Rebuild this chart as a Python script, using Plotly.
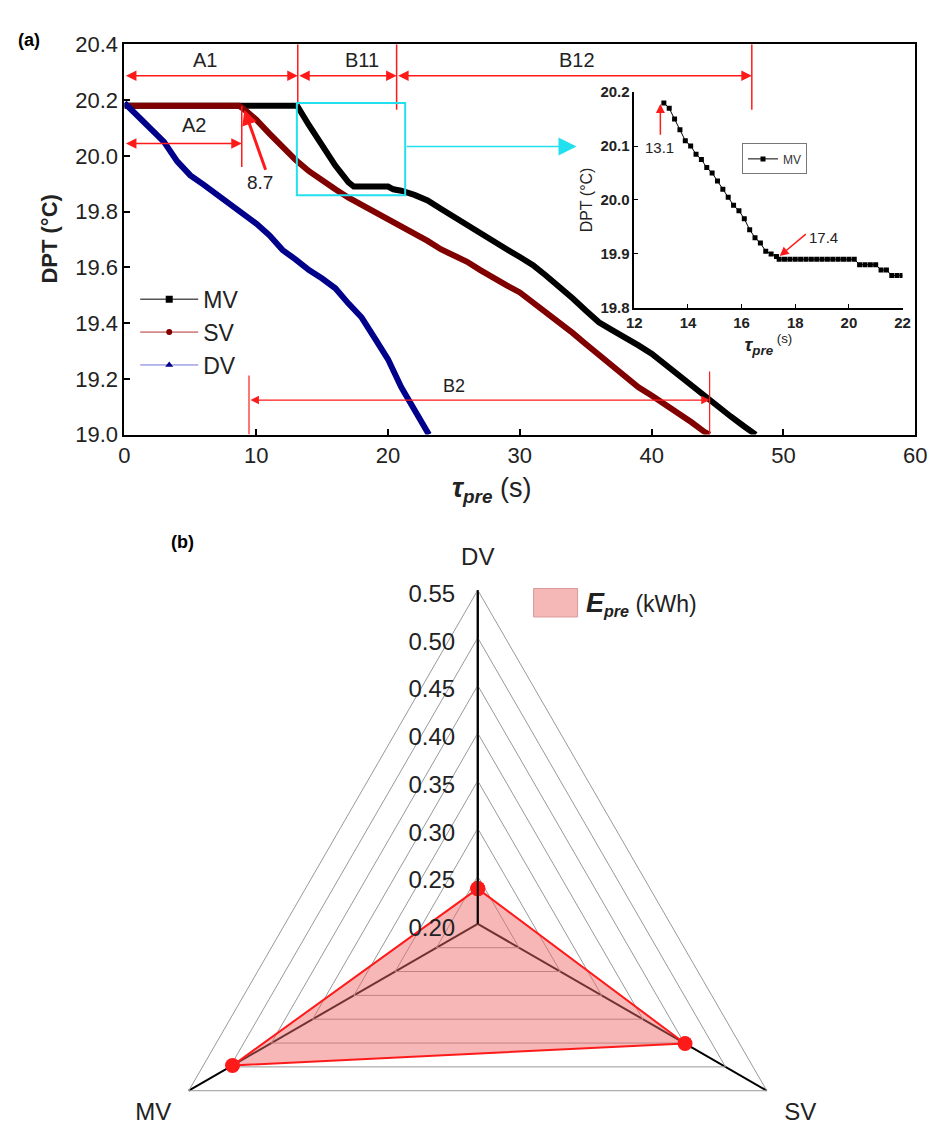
import plotly.graph_objects as go

W, H = 938, 1129
HF = 1282  # figure height (radar needs its full circle; only the top 1129 px are visible)
FONT = "Liberation Sans, Arial, sans-serif"

# ---------------- data: panel (a) ----------------
mv_time = [0, 13.1, 14, 15, 16, 17, 17.4, 18, 19, 20, 20.4, 21, 22, 23, 24, 25, 26, 27, 28, 29,
           30, 31, 32, 33, 34, 35, 36, 37, 38, 39, 40, 41, 42, 43, 44, 45, 46, 47, 47.9]
mv_dpt = [20.18, 20.18, 20.11, 20.035, 19.965, 19.905, 19.89, 19.89, 19.89, 19.89, 19.88, 19.875,
          19.86, 19.84, 19.81, 19.78, 19.75, 19.72, 19.69, 19.665, 19.637, 19.608, 19.57, 19.532,
          19.489, 19.445, 19.403, 19.375, 19.35, 19.32, 19.29, 19.252, 19.213, 19.174, 19.135,
          19.10, 19.065, 19.03, 19.0]

sv_time = [0, 8.7, 9, 10, 11, 12, 13, 14, 15, 16, 17, 18, 19, 20, 21, 22, 23, 24, 25, 26, 27, 28,
           29, 30, 31, 32, 33, 34, 35, 36, 37, 38, 39, 40, 41, 42, 43, 44, 44.4]
sv_dpt = [20.18, 20.18, 20.17, 20.13, 20.08, 20.03, 19.985, 19.945, 19.91, 19.88, 19.85, 19.825,
          19.80, 19.775, 19.75, 19.725, 19.695, 19.665, 19.645, 19.62, 19.59, 19.56, 19.535, 19.51,
          19.475, 19.44, 19.405, 19.365, 19.325, 19.285, 19.245, 19.21, 19.17, 19.14, 19.11,
          19.075, 19.045, 19.01, 19.0]

dv_time = [0, 1, 2, 3, 4, 5, 6, 7, 8, 9, 10, 11, 12, 13, 14, 15, 16, 17, 18, 19, 20, 21, 22, 23, 23.1]
dv_dpt = [20.19, 20.145, 20.095, 20.05, 19.98, 19.93, 19.897, 19.863, 19.83, 19.795, 19.757, 19.715,
          19.662, 19.628, 19.59, 19.56, 19.525, 19.47, 19.42, 19.345, 19.27, 19.17, 19.085, 19.01, 19.0]

# inset (zoom of MV, 12-22 s)
inset_time = [13.1, 13.3, 13.5, 13.7, 13.9, 14.1, 14.3, 14.5, 14.7, 14.9, 15.1, 15.3, 15.5, 15.7,
              15.9, 16.1, 16.3, 16.5, 16.7, 16.9, 17.1, 17.3, 17.4, 17.6, 17.8, 18.0, 18.2, 18.4,
              18.6, 18.8, 19.0, 19.2, 19.4, 19.6, 19.8, 20.0, 20.2, 20.4, 20.6, 20.8, 21.0, 21.2,
              21.4, 21.6, 21.8, 22.0]
inset_dpt = [20.18, 20.17, 20.15, 20.13, 20.11, 20.10, 20.085, 20.075, 20.06, 20.05, 20.035, 20.02,
             20.005, 19.99, 19.98, 19.965, 19.945, 19.93, 19.92, 19.905, 19.90, 19.895, 19.89,
             19.89, 19.89, 19.89, 19.89, 19.89, 19.89, 19.89, 19.89, 19.89, 19.89, 19.89, 19.89,
             19.89, 19.89, 19.88, 19.88, 19.88, 19.88, 19.87, 19.87, 19.86, 19.86, 19.86]

x_ticks = [0, 10, 20, 30, 40, 50, 60]
y_ticks = [19.0, 19.2, 19.4, 19.6, 19.8, 20.0, 20.2, 20.4]
inset_x_ticks = [12, 14, 16, 18, 20, 22]
inset_y_ticks = [19.8, 19.9, 20.0, 20.1, 20.2]

# ---------------- data: panel (b) ----------------
radar_cats = ["DV", "SV", "MV"]
e_pre = [0.237, 0.451, 0.497]
radar_ticks = [0.20, 0.25, 0.30, 0.35, 0.40, 0.45, 0.50, 0.55]

C_MV, C_SV, C_DV = "#000000", "#800000", "#00008B"
RED = "#FF1A1A"
CYAN = "#22E0EE"


def fx(p):
    return p / W


def fy(p):
    return 1 - p / HF


fig = go.Figure()

for t, v, c in [(mv_time, mv_dpt, C_MV), (sv_time, sv_dpt, C_SV), (dv_time, dv_dpt, C_DV)]:
    fig.add_trace(go.Scatter(x=t, y=v, mode="lines", line=dict(color=c, width=6),
                             showlegend=False, xaxis="x", yaxis="y", hoverinfo="skip"))

for name, c, sym, lc in [("MV", C_MV, "square", "#000000"), ("SV", C_SV, "circle", "#B03030"),
                         ("DV", C_DV, "triangle-up", "#7070E0")]:
    fig.add_trace(go.Scatter(x=[None], y=[None], mode="lines+markers", name=name,
                             line=dict(color=lc, width=1),
                             marker=dict(symbol=sym, color=c, size=7 if sym != "circle" else 6),
                             xaxis="x", yaxis="y", legend="legend"))

fig.add_trace(go.Scatter(x=inset_time, y=inset_dpt, mode="lines+markers", name="MV",
                         line=dict(color="black", width=1),
                         marker=dict(symbol="square", color="black", size=5),
                         xaxis="x2", yaxis="y2", legend="legend2"))

fig.add_trace(go.Scatterpolar(r=e_pre + [e_pre[0]], theta=radar_cats + [radar_cats[0]],
                              mode="lines+markers", fill="toself",
                              fillcolor="rgba(238,105,105,0.48)",
                              line=dict(color=RED, width=2),
                              marker=dict(color=RED, size=15),
                              cliponaxis=False, showlegend=False, subplot="polar"))

ann = []
shapes = []


def arrow(x0, y0, x1, y1, color=RED, width=1.5, size=1.4, both=False, xr="x", yr="y", head=2):
    d = dict(x=x1, y=y1, ax=x0, ay=y0, xref=xr, yref=yr, axref=xr, ayref=yr, text="",
             showarrow=True, arrowhead=head, arrowsize=size, arrowwidth=width, arrowcolor=color,
             standoff=0, startstandoff=0)
    if both:
        d.update(arrowside="end+start", startarrowhead=head, startarrowsize=size)
    return d


def vline(x, y0, y1, xr="x", yr="y", color=RED, width=1.5):
    shapes.append(dict(type="line", x0=x, x1=x, y0=y0, y1=y1, xref=xr, yref=yr,
                       line=dict(color=color, width=width)))


def label(x, y, text, size=20, xr="x", yr="y", **kw):
    ann.append(dict(x=x, y=y, xref=xr, yref=yr, text=text, showarrow=False,
                    font=dict(size=size, color="#222", family=FONT), **kw))


ann.append(arrow(0, 20.287, 13.15, 20.287, both=True))
ann.append(arrow(13.15, 20.287, 20.65, 20.287, both=True))
ann.append(arrow(20.65, 20.287, 47.6, 20.287, both=True))
vline(13.15, 20.18, 20.4)
vline(20.65, 20.165, 20.4)
vline(47.6, 20.165, 20.4)
label(6.1, 20.345, "A1")
label(18.0, 20.345, "B11")
label(34.3, 20.345, "B12")
ann.append(arrow(0, 20.044, 8.9, 20.044, both=True))
vline(8.9, 19.96, 20.18)
label(5.3, 20.11, "A2")
ann.append(arrow(10.75, 19.945, 9.1, 20.165, width=3, size=1.0))
label(10.25, 19.905, "8.7", size=19)
ann.append(arrow(9.45, 19.124, 44.4, 19.124, both=True, width=1.2))
vline(9.45, 19.0, 19.212, width=1.2)
vline(44.4, 19.0, 19.226, width=1.2)
label(25.0, 19.175, "B2", size=18)
shapes.append(dict(type="rect", x0=13.08, x1=21.3, y0=19.859, y1=20.19, xref="x", yref="y",
                   line=dict(color=CYAN, width=2)))
ann.append(arrow(21.3, 20.034, 34.3, 20.034, color=CYAN, width=1.5, size=2.4))

ann.append(arrow(12.97, 20.118, 12.97, 20.178, xr="x2", yr="y2", size=1.2))
label(12.93, 20.098, "13.1", size=15, xr="x2", yr="y2")
ann.append(arrow(18.45, 19.939, 17.42, 19.896, xr="x2", yr="y2", size=1.2))
label(19.05, 19.93, "17.4", size=15, xr="x2", yr="y2")

# axis titles of panel (a)
ann.append(dict(x=fx(494), y=fy(487), xref="paper", yref="paper", showarrow=False,
                xanchor="center", yanchor="middle",
                text="<b><i>τ<sub>pre</sub></i></b> (s)",
                font=dict(size=27, family=FONT, color="#222")))
ann.append(dict(x=fx(42), y=fy(232), xref="paper", yref="paper", showarrow=False, textangle=-90,
                xanchor="center", yanchor="middle",
                text="<b>DPT (°C)</b>", font=dict(size=22, family=FONT, color="#222")))

ann.append(dict(x=fx(8), y=fy(16), xref="paper", yref="paper", text="<b>(a)</b>", showarrow=False,
                xanchor="left", font=dict(size=18, family=FONT, color="black")))
ann.append(dict(x=fx(164), y=fy(541), xref="paper", yref="paper", text="<b>(b)</b>", showarrow=False,
                xanchor="left", font=dict(size=18, family=FONT, color="black")))

shapes.append(dict(type="rect", xref="paper", yref="paper", x0=fx(537), x1=fx(582), y0=fy(617),
                   y1=fy(588), fillcolor="#F6B7B7", line=dict(color="#D89A9A", width=1)))
ann.append(dict(x=fx(589), y=fy(604), xref="paper", yref="paper", xanchor="left", showarrow=False,
                text="<b><i><span style='font-size:27px'>E</span><sub>pre</sub></i></b> (kWh)",
                font=dict(size=23, family=FONT, color="#222")))

axis_common = dict(showgrid=False, zeroline=False, showline=True, linecolor="black",
                   ticks="inside", tickcolor="black")

fig.update_layout(
    width=W, height=HF, autosize=False,
    margin=dict(l=0, r=0, t=0, b=0),
    paper_bgcolor="white", plot_bgcolor="white",
    font=dict(family=FONT, color="#222"),
    xaxis=dict(domain=[fx(119), fx(927)], range=[0, 60], tickvals=x_ticks, anchor="y",
               mirror=True, linewidth=2, ticklen=6, tickwidth=1.5,
               tickfont=dict(size=22, family=FONT, color="#222"), **axis_common),
    yaxis=dict(domain=[fy(431), fy(33)], range=[19.0, 20.4], tickvals=y_ticks, tickformat=".1f",
               anchor="x", mirror=True, linewidth=2, ticklen=6, tickwidth=1.5,
               tickfont=dict(size=22, family=FONT, color="#222"), **axis_common),
    xaxis2=dict(domain=[fx(640), fx(914)], range=[12, 22], tickvals=inset_x_ticks, anchor="y2",
                linewidth=1.5, ticklen=4, tickwidth=1.2,
                tickfont=dict(size=15, family=FONT, color="#222", weight="bold"),
                title=dict(text="<b><i>τ<sub>pre</sub></i></b><sup> (s)</sup>", standoff=6,
                           font=dict(size=19, family=FONT, color="#222")),
                **axis_common),
    yaxis2=dict(domain=[fy(301.7), fy(81.7)], range=[19.8, 20.2], tickvals=inset_y_ticks,
                tickformat=".1f", anchor="x2", linewidth=1.5, ticklen=4, tickwidth=1.2,
                tickfont=dict(size=15, family=FONT, color="#222", weight="bold"),
                title=dict(text="DPT (°C)", standoff=4, font=dict(size=16, family=FONT, color="#222")),
                **axis_common),
    legend=dict(x=fx(130), y=fy(271), xanchor="left", yanchor="top", bgcolor="rgba(0,0,0,0)",
                font=dict(size=23, family=FONT, color="#222"), itemwidth=58,
                tracegroupgap=0),
    legend2=dict(x=fx(750), y=fy(134), xanchor="left", yanchor="top", bgcolor="white",
                 bordercolor="#777", borderwidth=1, font=dict(size=12, family=FONT, color="#333"),
                 itemwidth=30),
    polar=dict(
        domain=dict(x=[fx(139), fx(821)], y=[fy(1271), fy(589)]),
        gridshape="linear",
        bgcolor="white",
        radialaxis=dict(range=[0.2, 0.55], angle=90, side="counterclockwise", tickvals=radar_ticks,
                        tickformat=".2f", showline=True, linecolor="black", linewidth=2,
                        gridcolor="#999", gridwidth=1, ticks="",
                        tickfont=dict(size=24, family=FONT, color="#222")),
        angularaxis=dict(categoryorder="array", categoryarray=radar_cats, rotation=90,
                         direction="clockwise", showline=True, linecolor="#999", linewidth=1,
                         gridcolor="black", gridwidth=1.5, ticks="outside", ticklen=15,
                         tickcolor="rgba(0,0,0,0)",
                         tickfont=dict(size=24, family=FONT, color="#222")),
    ),
    annotations=ann,
    shapes=shapes,
)

fig.write_html(
    "out.html",
    post_script="document.documentElement.style.overflow='hidden';document.body.style.overflow='hidden';",
)
